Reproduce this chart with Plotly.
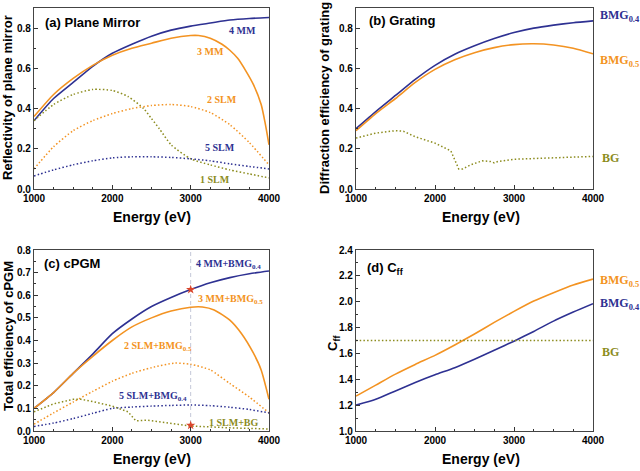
import plotly.graph_objects as go
from plotly.subplots import make_subplots

# ---------- data ----------
# (a) plane mirror reflectivity
e_4mm = [1000, 1250, 1500, 1750, 2000, 2250, 2500, 2750, 3000, 3250, 3500, 3750, 4000]
r_4mm = [0.34, 0.45, 0.53, 0.61, 0.675, 0.72, 0.76, 0.79, 0.81, 0.825, 0.84, 0.848, 0.853]
e_3mm = [1000, 1250, 1500, 1750, 2000, 2250, 2500, 2750, 3000, 3100, 3250, 3400, 3500, 3600, 3700, 3800, 3900, 3950, 4000]
r_3mm = [0.36, 0.47, 0.55, 0.615, 0.665, 0.70, 0.725, 0.75, 0.763, 0.763, 0.75, 0.72, 0.69, 0.65, 0.59, 0.52, 0.42, 0.33, 0.22]
e_1slm = [1000, 1250, 1500, 1750, 2000, 2200, 2400, 2500, 2600, 2750, 3000, 3250, 3500, 3750, 4000]
r_1slm = [0.34, 0.42, 0.47, 0.495, 0.49, 0.46, 0.40, 0.35, 0.30, 0.22, 0.15, 0.12, 0.095, 0.075, 0.055]
e_2slm = [1000, 1250, 1500, 1750, 2000, 2250, 2500, 2750, 3000, 3250, 3500, 3750, 4000]
r_2slm = [0.10, 0.21, 0.29, 0.34, 0.375, 0.40, 0.415, 0.42, 0.41, 0.38, 0.32, 0.23, 0.12]
e_5slm = [1000, 1250, 1500, 1750, 2000, 2250, 2500, 2750, 3000, 3250, 3500, 3750, 4000]
r_5slm = [0.065, 0.095, 0.12, 0.14, 0.155, 0.16, 0.16, 0.157, 0.15, 0.14, 0.125, 0.112, 0.10]

# (b) grating diffraction efficiency
e_g = [1000, 1250, 1500, 1750, 2000, 2250, 2500, 2750, 3000, 3250, 3500, 3750, 4000]
d_bmg04 = [0.30, 0.385, 0.465, 0.545, 0.615, 0.67, 0.712, 0.748, 0.778, 0.80, 0.815, 0.827, 0.836]
d_bmg05 = [0.29, 0.375, 0.45, 0.53, 0.595, 0.643, 0.678, 0.703, 0.718, 0.722, 0.716, 0.70, 0.672]
e_bg = [1000, 1250, 1500, 1600, 1750, 2000, 2200, 2250, 2300, 2350, 2450, 2600, 2700, 2750, 2800, 3000, 3500, 4000]
d_bg = [0.253, 0.278, 0.29, 0.287, 0.26, 0.228, 0.19, 0.14, 0.10, 0.10, 0.12, 0.14, 0.137, 0.13, 0.137, 0.148, 0.155, 0.162]

# (c) total cPGM efficiency
e_c = [1000, 1250, 1500, 1750, 2000, 2250, 2500, 2750, 3000, 3250, 3500, 3750, 4000]
t_4mm = [0.10, 0.17, 0.255, 0.34, 0.43, 0.495, 0.55, 0.59, 0.625, 0.655, 0.678, 0.695, 0.707]
e_c3 = [1000, 1250, 1500, 1750, 2000, 2250, 2500, 2750, 3000, 3150, 3300, 3500, 3650, 3800, 3900, 4000]
t_3mm = [0.10, 0.17, 0.255, 0.33, 0.40, 0.46, 0.50, 0.53, 0.547, 0.548, 0.535, 0.49, 0.43, 0.345, 0.27, 0.14]
e_c2 = [1000, 1250, 1500, 1750, 2000, 2250, 2500, 2800, 3000, 3250, 3500, 3750, 4000]
t_2slm = [0.03, 0.08, 0.128, 0.175, 0.22, 0.255, 0.28, 0.30, 0.295, 0.27, 0.21, 0.15, 0.08]
t_5slm = [0.02, 0.035, 0.055, 0.078, 0.10, 0.106, 0.11, 0.113, 0.115, 0.112, 0.105, 0.095, 0.08]
e_c1 = [1000, 1250, 1500, 1600, 1750, 2000, 2200, 2300, 2450, 2600, 2750, 3000, 3500, 4000]
t_1slm = [0.085, 0.12, 0.14, 0.14, 0.13, 0.11, 0.085, 0.045, 0.048, 0.04, 0.033, 0.022, 0.014, 0.009]
star_e = [3000, 3000]
star_t = [0.625, 0.025]

# (d) Cff
e_d = [1000, 1250, 1500, 1750, 2000, 2250, 2500, 2750, 3000, 3250, 3500, 3750, 4000]
c_bmg05 = [1.27, 1.355, 1.44, 1.515, 1.585, 1.665, 1.75, 1.84, 1.925, 2.005, 2.07, 2.13, 2.175]
c_bmg04 = [1.20, 1.245, 1.31, 1.375, 1.435, 1.49, 1.555, 1.625, 1.695, 1.77, 1.85, 1.92, 1.985]
e_bgd = [1000, 4000]
c_bg = [1.70, 1.70]

BLUE = "#2e3192"
ORANGE = "#f39322"
OLIVE = "#8c8c1e"
RED = "#d9452b"
DOT = "1.5px,2.2px"

fig = make_subplots(rows=2, cols=2)


def line(x, y, color, row, col, dot=False, smooth=True):
    fig.add_trace(go.Scatter(
        x=x, y=y, mode="lines",
        line=dict(color=color, width=1.6 if not dot else 1.5,
                  dash=DOT if dot else "solid",
                  shape="spline" if smooth else "linear", smoothing=0.6),
        showlegend=False, hoverinfo="skip"), row=row, col=col)


# (a)
line(e_4mm, r_4mm, BLUE, 1, 1)
line(e_3mm, r_3mm, ORANGE, 1, 1)
line(e_1slm, r_1slm, OLIVE, 1, 1, dot=True)
line(e_2slm, r_2slm, ORANGE, 1, 1, dot=True)
line(e_5slm, r_5slm, BLUE, 1, 1, dot=True)
# (b)
line(e_g, d_bmg04, BLUE, 1, 2)
line(e_g, d_bmg05, ORANGE, 1, 2)
line(e_bg, d_bg, OLIVE, 1, 2, dot=True, smooth=False)
# (c)
line(e_c, t_4mm, BLUE, 2, 1)
line(e_c3, t_3mm, ORANGE, 2, 1)
line(e_c2, t_2slm, ORANGE, 2, 1, dot=True)
line(e_c, t_5slm, BLUE, 2, 1, dot=True)
line(e_c1, t_1slm, OLIVE, 2, 1, dot=True, smooth=False)
fig.add_trace(go.Scatter(x=star_e, y=star_t, mode="markers",
                         marker=dict(symbol="star", size=7, color=RED),
                         showlegend=False, hoverinfo="skip"), row=2, col=1)
# (d)
line(e_d, c_bmg05, ORANGE, 2, 2)
line(e_d, c_bmg04, BLUE, 2, 2)
line(e_bgd, c_bg, OLIVE, 2, 2, dot=True, smooth=False)

# dashed guide at 3000 eV in (c)
fig.add_shape(type="line", xref="x3", yref="y3 domain", x0=3000, x1=3000, y0=0, y1=1,
              line=dict(color="#c4c8d8", width=1, dash="4px,3px"), layer="below")

W, H = 640, 471
dom_x = {1: [34 / W, 269 / W], 2: [356 / W, 593 / W]}
dom_y = {1: [1 - 189 / H, 1 - 8 / H], 2: [1 - 431 / H, 1 - 250 / H]}
tickfont = dict(family="Arial", size=10, color="black", weight="bold")

axis_common = dict(showgrid=False, zeroline=False, showline=True, mirror=True,
                   linecolor="#444", linewidth=1.3, ticks="inside", ticklen=4,
                   tickcolor="#333", tickfont=tickfont, automargin=False)

yranges = {1: [0, 0.9], 2: [0, 0.9], 3: [0, 0.8], 4: [1.0, 2.4]}
ydticks = {1: 0.2, 2: 0.2, 3: 0.1, 4: 0.2}
for i, (r, c) in enumerate([(1, 1), (1, 2), (2, 1), (2, 2)], start=1):
    xa = "xaxis" if i == 1 else f"xaxis{i}"
    ya = "yaxis" if i == 1 else f"yaxis{i}"
    fig.layout[xa].update(domain=dom_x[c], range=[1000, 4000], dtick=1000,
                          tickformat="d", minor=dict(dtick=250, ticks="inside", ticklen=2,
                                                     tickcolor="#333"),
                          **axis_common)
    fig.layout[ya].update(domain=dom_y[r], range=yranges[i], dtick=ydticks[i],
                          tickformat=".1f",
                          minor=dict(dtick=ydticks[i] / 2, ticks="inside", ticklen=2,
                                     tickcolor="#333"),
                          **axis_common)

ann = []


def txt(x, y, text, size=11, color="black", family="Arial", angle=0,
        xanchor="left", yanchor="middle"):
    ann.append(dict(x=x / W, y=1 - y / H, xref="paper", yref="paper", text=text,
                    showarrow=False, textangle=angle, xanchor=xanchor, yanchor=yanchor,
                    font=dict(family=family, size=size, color=color, weight="bold")))


SERIF = "Liberation Serif"
# panel titles
txt(43, 23, "(a) Plane Mirror", 13)
txt(367, 21, "(b) Grating", 13)
txt(42, 263, "(c) cPGM", 13)
txt(365, 268, "(d) C<sub>ff</sub>", 13)
# axis titles
for cx in (152, 481):
    txt(cx, 217, "Energy (eV)", 14, xanchor="center")
    txt(cx, 459, "Energy (eV)", 14, xanchor="center")
txt(8, 98, "Reflectivity of plane mirror", 13, angle=-90, xanchor="center")
txt(325, 98, "Diffraction efficiency of grating", 13, angle=-90, xanchor="center")
txt(8, 336, "Total efficiency of cPGM", 13, angle=-90, xanchor="center")
txt(333, 343, "C<sub>ff</sub>", 13, angle=-90, xanchor="center")
# curve labels (a)
txt(227, 31, "4 MM", 10, BLUE, SERIF)
txt(195, 52, "3 MM", 10, ORANGE, SERIF)
txt(205, 100, "2 SLM", 10, ORANGE, SERIF)
txt(203, 148, "5 SLM", 10, BLUE, SERIF)
txt(198, 179, "1 SLM", 10, OLIVE, SERIF)
# (b)
txt(598, 16, "BMG<sub>0.4</sub>", 12, BLUE, SERIF)
txt(598, 61, "BMG<sub>0.5</sub>", 12, ORANGE, SERIF)
txt(600, 158, "BG", 12, OLIVE, SERIF)
# (c)
txt(194, 264, "4 MM+BMG<sub>0.4</sub>", 10, BLUE, SERIF)
txt(196, 299, "3 MM+BMG<sub>0.5</sub>", 10, ORANGE, SERIF)
txt(122, 346, "2 SLM+BMG<sub>0.5</sub>", 10, ORANGE, SERIF)
txt(117, 396, "5 SLM+BMG<sub>0.4</sub>", 10, BLUE, SERIF)
txt(207, 422, "1 SLM+BG", 10, OLIVE, SERIF)
# (d)
txt(598, 281, "BMG<sub>0.5</sub>", 12, ORANGE, SERIF)
txt(598, 304, "BMG<sub>0.4</sub>", 12, BLUE, SERIF)
txt(600, 352, "BG", 12, OLIVE, SERIF)

fig.update_layout(width=W, height=H, margin=dict(l=0, r=0, t=0, b=0),
                  plot_bgcolor="white", paper_bgcolor="white", annotations=ann)

# drop the page's default body margin so the 640x471 figure sits at the origin
fig.write_html("out.html", config={"displayModeBar": False},
               post_script="document.body.style.margin='0';document.body.style.overflow='hidden';")
